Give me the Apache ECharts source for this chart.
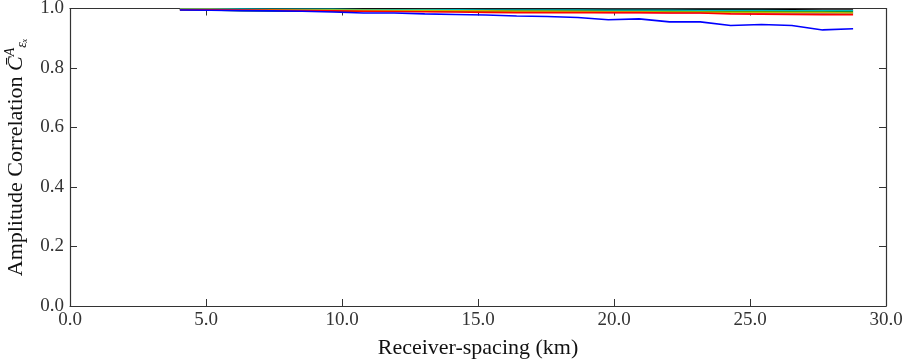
<!DOCTYPE html>
<html>
<head>
<meta charset="utf-8">
<script src="https://cdn.jsdelivr.net/npm/echarts@6/dist/echarts.min.js"></script>
<style>
html,body{margin:0;padding:0;background:#fff;}
#chart{width:909px;height:361px;}
</style>
</head>
<body>
<div id="chart"></div>
<script>
// Receiver spacing (km)
const spacing = [4.04, 5.17, 6.29, 7.42, 8.54, 9.67, 10.79, 11.92, 13.04, 14.17, 15.29, 16.42, 17.54, 18.67, 19.79, 20.92, 22.04, 23.17, 24.29, 25.42, 26.54, 27.67, 28.79];
const xTicks = [0, 5, 10, 15, 20, 25, 30];
const yTicks = [0, 0.2, 0.4, 0.6, 0.8, 1.0];

const blueVals    = [0.995,0.994,0.993,0.992,0.991,0.988,0.985,0.985,0.982,0.980,0.978,0.975,0.973,0.970,0.962,0.965,0.955,0.955,0.943,0.946,0.943,0.928,0.932];
const greenVals   = [0.996,0.995,0.993,0.992,0.991,0.991,0.991,0.992,0.992,0.992,0.992,0.991,0.991,0.991,0.990,0.990,0.990,0.989,0.989,0.989,0.988,0.988,0.988];
const redVals     = [0.996,0.996,0.995,0.994,0.993,0.992,0.991,0.990,0.989,0.988,0.987,0.986,0.986,0.986,0.986,0.986,0.985,0.985,0.982,0.981,0.980,0.979,0.979];
const cyanVals    = [0.998,0.998,0.998,0.997,0.997,0.997,0.996,0.996,0.996,0.996,0.995,0.995,0.995,0.995,0.994,0.994,0.994,0.993,0.993,0.993,0.992,0.992,0.992];
const magentaVals = [0.997,0.997,0.996,0.995,0.994,0.993,0.992,0.992,0.991,0.990,0.990,0.989,0.988,0.988,0.987,0.987,0.986,0.986,0.985,0.985,0.984,0.984,0.983];
const yellowVals  = [0.997,0.997,0.996,0.996,0.995,0.995,0.994,0.993,0.993,0.992,0.992,0.991,0.991,0.990,0.989,0.989,0.988,0.988,0.987,0.987,0.986,0.986,0.985];
const blackVals   = [0.999,0.999,0.999,0.998,0.998,0.998,0.998,0.998,0.997,0.997,0.997,0.997,0.997,0.997,0.996,0.996,0.996,0.996,0.996,0.996,0.996,0.995,0.995];

const seriesDefs = [
  {name:'k', color:'#000000', data:blackVals},
  {name:'m', color:'#bf00bf', data:magentaVals},
  {name:'c', color:'#00bfbf', data:cyanVals},
  {name:'g', color:'#008000', data:greenVals},
  {name:'y', color:'#bfbf00', data:yellowVals},
  {name:'r', color:'#ff0000', data:redVals},
  {name:'b', color:'#0000ff', data:blueVals}
];

const font = 'Liberation Serif';
const chart = echarts.init(document.getElementById('chart'));

function axisLine(){ return {show:true, onZero:false, lineStyle:{color:'#333', width:1.2}}; }
function ticks(){ return {show:true, inside:true, length:7, lineStyle:{color:'#333', width:1}}; }

chart.setOption({
  animation:false,
  backgroundColor:'#fff',
  grid:{left:70, right:23, top:8.5, bottom:55, containLabel:false, outerBoundsMode:'none'},
  xAxis:[{
    type:'value', min:xTicks[0], max:xTicks[xTicks.length-1], interval:5,
    axisLine:axisLine(), axisTick:ticks(), splitLine:{show:false},
    axisLabel:{formatter:v=>v.toFixed(1), fontFamily:font, fontSize:19, color:'#333', margin:5},
    name:'Receiver-spacing (km)', nameLocation:'middle', nameGap:31,
    nameTextStyle:{fontFamily:font, fontSize:22, color:'#111'}
  },{
    type:'value', position:'top', min:0, max:30, interval:5,
    axisLine:axisLine(), axisTick:ticks(), axisLabel:{show:false}, splitLine:{show:false}
  }],
  yAxis:[{
    type:'value', min:yTicks[0], max:yTicks[yTicks.length-1], interval:0.2,
    axisLine:axisLine(), axisTick:ticks(), splitLine:{show:false},
    axisLabel:{formatter:v=>v.toFixed(1), fontFamily:font, fontSize:19, color:'#333', margin:6},
    name:'{n|Amplitude Correlation }{c|C̄}{s|A}{b|εₓ}', nameLocation:'middle', nameGap:38,
    nameTextStyle:{
      fontFamily:font, fontSize:22, color:'#111',
      rich:{
        n:{fontFamily:font, fontSize:22, color:'#111'},
        c:{fontFamily:font, fontSize:22, color:'#111', fontStyle:'italic'},
        s:{fontFamily:font, fontSize:14, color:'#111', fontStyle:'italic', verticalAlign:'top', padding:[0,0,12,0]},
        b:{fontFamily:font, fontSize:14, color:'#111', fontStyle:'italic', verticalAlign:'bottom', padding:[10,0,0,0]}
      }
    }
  },{
    type:'value', position:'right', min:0, max:1, interval:0.2,
    axisLine:axisLine(), axisTick:ticks(), axisLabel:{show:false}, splitLine:{show:false}
  }],
  series: seriesDefs.map(s=>({
    name:s.name, type:'line', xAxisIndex:0, yAxisIndex:0,
    data: spacing.map((x,i)=>[x, s.data[i]]),
    showSymbol:false, symbol:'none',
    lineStyle:{color:s.color, width:1.6},
    itemStyle:{color:s.color}
  }))
});
</script>
</body>
</html>
